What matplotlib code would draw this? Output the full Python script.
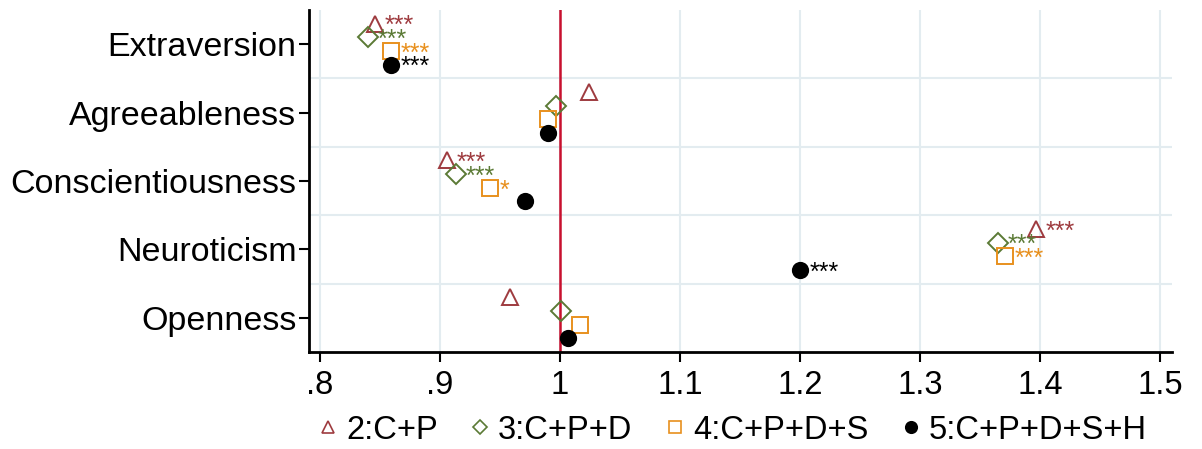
import numpy as np
import matplotlib
matplotlib.use("Agg")
import matplotlib.pyplot as plt

plt.rcParams['font.family'] = ['Liberation Sans', 'DejaVu Sans']

# Big Five traits, top to bottom
traits = ['Extraversion', 'Agreeableness', 'Conscientiousness', 'Neuroticism', 'Openness']

# Estimates per model
m2 = [0.846, 1.024, 0.906, 1.397, 0.958]
m3 = [0.840, 0.997, 0.913, 1.365, 1.001]
m4 = [0.859, 0.990, 0.942, 1.371, 1.017]
m5 = [0.859, 0.990, 0.971, 1.200, 1.007]

# significance stars
s2 = ['***', '', '***', '***', '']
s3 = ['***', '', '***', '***', '']
s4 = ['***', '', '*', '***', '']
s5 = ['***', '', '', '***', '']

labels = ['2:C+P', '3:C+P+D', '4:C+P+D+S', '5:C+P+D+S+H']
xticks = [0.8, 0.9, 1.0, 1.1, 1.2, 1.3, 1.4, 1.5]
xticklabels = ['.8', '.9', '1', '1.1', '1.2', '1.3', '1.4', '1.5']

series = [
    (m2, s2, '^', '#9e3b3f', 0.3, 12, 'none'),
    (m3, s3, 'D', '#5b7a35', 0.1, 10, 'none'),
    (m4, s4, 's', '#e8901e', -0.1, 11, 'none'),
    (m5, s5, 'o', 'black', -0.3, 11, 'black'),
]

fig = plt.figure(figsize=(12.02, 4.49), dpi=100)
ax = fig.add_axes([0.257, 0.216, 0.718, 0.762])

pos = np.arange(len(traits))[::-1] + 1  # Extraversion at top

grid_c = '#e3ecf0'
for x in xticks:
    ax.axvline(x, color=grid_c, lw=1.5, zorder=0)
for y in [1.5, 2.5, 3.5, 4.5]:
    ax.axhline(y, color=grid_c, lw=1.5, zorder=0)
ax.axvline(1.0, color='#c8102e', lw=1.8, zorder=1)

for vals, stars, mk, col, off, ms, fc in series:
    ys = pos + off
    ax.plot(vals, ys, linestyle='none', marker=mk, markersize=ms,
            markerfacecolor=fc, markeredgecolor=col, markeredgewidth=1.4,
            zorder=3)
    for v, y, s in zip(vals, ys, stars):
        if s:
            ax.annotate(s, (v, y), xytext=(7, -7), textcoords='offset points',
                        color=col, fontsize=18, ha='left', va='baseline')

ax.set_xlim(0.7908, 1.51)
ax.set_ylim(0.5, 5.5)
ax.set_yticks(pos)
ax.set_yticklabels(traits, fontsize=24.5)
ax.set_xticks(xticks)
ax.set_xticklabels(xticklabels, fontsize=23.5)
ax.tick_params(axis='both', direction='out', length=7, width=1.5, color='black')
ax.tick_params(axis='y', pad=2)
ax.tick_params(axis='x', pad=6)

for side in ['top', 'right']:
    ax.spines[side].set_visible(False)
for side in ['left', 'bottom']:
    ax.spines[side].set_linewidth(2)

leg_handles = []
for vals, stars, mk, col, off, ms, fc in series:
    lh, = ax.plot([], [], linestyle='none', marker=mk, markersize=ms * 0.75,
                  markerfacecolor=fc, markeredgecolor=col, markeredgewidth=1.2)
    leg_handles.append(lh)

fig.legend(leg_handles, labels, loc='center', bbox_to_anchor=(0.61, 0.042),
           ncol=4, frameon=False, fontsize=23.5, handlelength=0.5,
           handletextpad=0.3, columnspacing=1.05, borderpad=0)

fig.savefig('out.png', dpi=100)
